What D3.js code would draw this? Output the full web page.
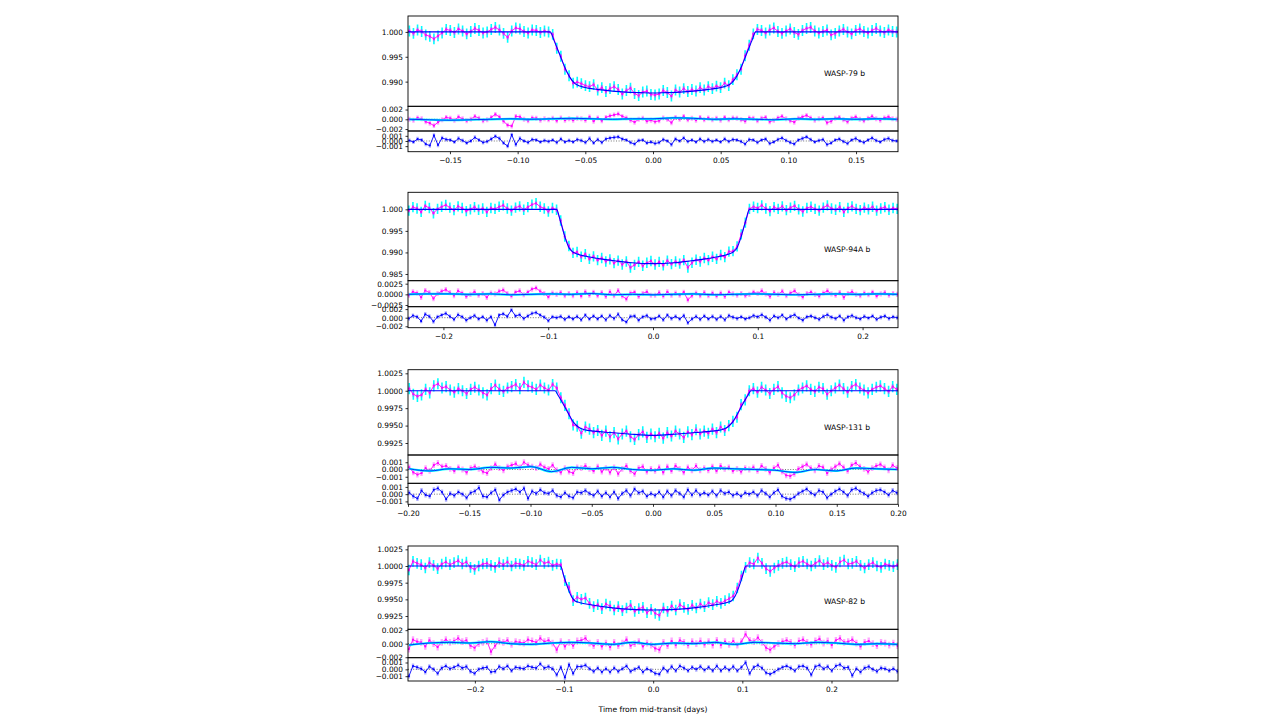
<!DOCTYPE html>
<html>
<head>
<meta charset="utf-8">
<script src="https://cdnjs.cloudflare.com/ajax/libs/d3/7.8.5/d3.min.js"></script>
<style>
  body { margin: 0; background: #fff; }
  svg { display: block; font-family: "DejaVu Sans", sans-serif; }
</style>
</head>
<body>
<div id="chart"></div>
<script>
// planet names, one per panel
const planets = ["WASP-79 b", "WASP-94A b", "WASP-131 b", "WASP-82 b"];

// time span covered by the observations (days from mid-transit)
const timeSpans = [[-0.18, 0.18], [-0.233, 0.233], [-0.199, 0.199], [-0.274, 0.274]];

// all flux / residual values below are in units of 1e-4 (relative to 1.0 or 0.0)

// WASP-79 b
const flux1 = [2,-3,4,1,-6,-9,-14,-8,-2,5,3,-1,6,2,-4,1,7,3,-2,0,5,9,4,-3,-11,2,8,6,1,-2,4,3,-1,2,0,
  -5,-33,-49,-75,-88,-103,
  -101,-104,-108,-110,-106,-117,-112,-120,-114,-110,-116,-125,-118,-113,-124,-128,-121,-119,-126,
  -127,-125,-118,-122,-129,-117,-121,-114,-120,-116,-119,-112,-117,-110,-114,-109,-112,-103,-108,
  -96,-86,-75,-48,-27,-4,
  5,3,-2,4,8,1,-3,2,6,-1,-5,3,7,9,2,-2,1,4,-6,-3,2,5,0,-4,3,6,1,-2,3,7,2,-1,4,1,0];
const resid1 = [0,-2,3,1,-5,-8,-13,-6,-1,4,2,-2,5,1,-3,0,6,2,-3,-1,
  4,10,5,-4,-12,-14,6,5,0,-3,3,2,-2,1,-1,2,-3,3,-2,1,
  -2,2,1,-2,5,-4,3,-3,4,7,9,11,6,3,-2,-6,0,2,-4,-2,
  -5,-3,3,0,-7,4,0,6,-1,2,-2,4,-1,3,-1,2,-2,4,-1,3,
  2,-1,-4,3,2,-3,2,4,-5,-2,3,6,1,-3,-6,2,5,8,3,-2,
  1,3,-7,-4,2,4,-1,-5,2,5,0,-3,2,6,1,-2,3,5,1,0];
const gp1 = [0,-1,-2,-1,0,1,0,1,2,1,0,1,1,3,2,0,1,0,-1,1,0,1,0,1,0];
const detrended1 = [1,-2,4,2,-6,-9,11,-8,6,3,2,-2,5,1,-4,0,7,2,-3,-1,
  4,9,5,-4,-10,12,-7,5,0,-3,3,2,-2,1,-1,2,-3,4,-2,1,
  -2,3,1,-3,5,-4,3,-3,4,6,7,8,4,2,-3,-6,1,2,-4,-2,
  -5,-3,3,0,-7,4,0,6,-1,2,-2,4,-1,3,-1,2,-2,4,-1,3,
  2,-1,-6,3,2,-3,2,4,-5,-2,3,6,1,-3,-6,2,5,8,3,-2,
  1,3,-7,-4,2,4,-1,-5,2,5,0,-3,2,6,1,-2,3,5,1,0];
const modelTime1 = [-0.181,-0.076,-0.073,-0.069,-0.065,-0.061,-0.058,-0.054,-0.048,-0.04,-0.03,-0.02,-0.01,0,0.01,0.02,0.03,0.04,0.048,0.054,0.058,0.061,0.065,0.069,0.073,0.076,0.181];
const modelFlux1 = [0,0,-18,-45,-72,-93,-103,-109,-113,-116,-119,-121,-122,-123,-122,-121,-119,-116,-113,-109,-103,-93,-72,-45,-18,0,0];

// WASP-94A b
const flux2 = [-3,5,2,-6,8,3,-9,1,6,10,4,-2,7,3,-4,0,5,-1,2,-6,3,1,6,9,2,-3,4,7,-1,5,11,14,6,2,-5,3,
  -1,-26,-63,-85,-101,
  -99,-110,-104,-115,-109,-118,-113,-121,-116,-125,-119,-128,-121,-135,-129,-122,-131,-124,-120,
  -128,-122,-130,-119,-127,-121,-126,-118,-135,-124,-117,-121,-113,-118,-110,-115,-106,-111,-98,
  -97,-86,-58,-31,1,
  6,3,9,2,-4,5,1,7,-2,4,8,0,-5,3,6,1,-3,4,9,2,-1,5,-6,3,7,1,-2,4,0,6,-3,2,5,-1,3,1];
const resid2 = [-2,6,3,-7,9,4,-10,2,7,11,4,-3,8,3,-5,0,6,-2,2,-7,
  3,1,7,10,2,-4,5,8,-1,5,12,15,7,2,-6,3,0,4,-3,2,
  -3,4,-4,6,-2,5,-3,4,-5,6,-3,9,-4,-11,3,5,-5,2,6,-2,
  -2,4,-4,6,-2,3,-2,5,-13,-3,3,-3,4,-3,3,-4,3,-5,5,1,
  -2,2,-3,0,5,2,8,1,-5,4,0,7,-3,3,8,-1,-6,2,5,0,
  -4,3,8,1,-2,4,-7,2,6,0,-3,3,-1,5,-4,1,4,-2,2,0];
const gp2 = [0,1,1,0,1,-1,0,1,0,2,-1,0,-1,0,1,-1,0,1,0,-1,0,1,0,1,0];
const detrended2 = [-2,5,2,-8,8,3,-9,2,6,10,3,-4,7,2,-6,0,5,-3,2,-6,
  2,-17,6,9,3,18,4,7,-2,4,10,12,6,1,-7,2,0,3,-4,2,
  -3,3,-5,6,-3,4,-3,4,-5,5,-2,8,-5,-10,3,4,-6,2,5,-3,
  -2,4,-5,6,-2,3,-3,5,-12,-3,3,-4,4,-3,3,-4,3,-5,5,1,
  -2,2,-3,0,5,2,7,1,-6,4,0,6,-3,3,7,-1,-6,2,4,0,
  -4,3,7,1,-2,4,-6,2,5,0,-3,3,-1,4,-4,1,4,-2,2,0];
const modelTime2 = [-0.234,-0.092,-0.089,-0.086,-0.083,-0.08,-0.077,-0.072,-0.064,-0.05,-0.035,-0.02,0,0.02,0.035,0.05,0.064,0.072,0.077,0.08,0.083,0.086,0.089,0.092,0.234];
const modelFlux2 = [0,0,-22,-48,-72,-90,-98,-104,-109,-115,-120,-124,-126,-124,-120,-115,-109,-104,-98,-90,-72,-48,-22,0,0];

// WASP-131 b
const flux3 = [3,-5,-8,-6,2,-3,7,10,4,6,1,-2,3,0,-4,2,5,1,-3,-6,3,8,2,-1,4,6,9,3,12,7,5,2,8,4,1,9,
  4,-10,-21,-33,-49,-51,
  -61,-52,-55,-60,-57,-64,-58,-66,-60,-69,-62,-58,-66,-70,-63,-59,-67,-62,
  -66,-61,-68,-60,-65,-58,-62,-67,-59,-63,-56,-62,-58,-61,-55,-60,-52,-57,
  -50,-44,-38,-20,-13,0,
  3,-2,5,1,-4,2,6,-3,-8,-10,-6,1,4,7,2,-1,5,3,-5,0,4,8,3,-2,6,9,4,1,-3,2,5,7,3,-1,6,2];
const resid3 = [3,-4,-7,-5,2,-2,6,9,4,5,1,-2,3,0,-4,2,4,1,-3,-5,
  2,7,2,-1,4,6,8,3,10,6,4,2,7,3,1,6,-1,-4,2,-3,
  -5,3,2,5,1,-2,4,-3,2,-4,3,-6,1,5,-2,-6,2,4,-3,1,
  -2,3,-4,4,-2,5,1,-4,3,-1,5,-1,2,-1,4,-2,5,1,3,-2,
  1,-3,2,0,3,-2,5,1,-4,2,6,-3,-8,-9,-6,1,4,7,2,-1,
  5,3,-5,0,4,8,3,-2,6,9,4,1,-3,2,5,7,3,-1,6,2];
const gp3 = [1,-2,1,0,3,2,4,-3,3,1,3,0,-1,1,-1,2,1,0,-1,-4,0,-2,2,1,0];
const detrended3 = [2,-3,-6,5,-1,-3,6,8,3,-7,1,-2,3,0,-5,2,4,9,-3,-4,
  2,6,-8,-1,3,5,7,3,8,-6,4,1,6,2,1,5,-2,-4,2,-3,
  -5,3,2,5,1,-2,4,-3,2,-4,3,-6,1,5,-2,7,2,4,-3,1,
  -2,3,-4,4,-2,5,1,-4,6,-1,5,-1,2,-1,4,-2,5,1,3,-2,
  1,-3,2,0,3,-2,5,1,-4,2,6,-3,-6,-7,-4,1,4,7,2,-1,
  5,3,-5,0,4,7,3,-2,6,8,4,1,-3,2,5,6,3,-1,5,2];
const modelTime3 = [-0.2,-0.08,-0.077,-0.073,-0.069,-0.065,-0.061,-0.056,-0.048,-0.035,-0.02,0,0.02,0.035,0.048,0.056,0.061,0.065,0.069,0.073,0.077,0.08,0.2];
const modelFlux3 = [0,0,-8,-20,-33,-45,-52,-56,-58,-60,-62,-64,-62,-60,-58,-56,-52,-45,-33,-20,-8,0,0];

// WASP-82 b
const flux4 = [-6,7,4,2,-3,5,1,-4,3,6,2,5,8,3,6,-2,-5,0,3,4,1,-2,5,2,6,0,4,3,1,7,5,2,9,4,6,1,3,
  2,-22,-32,-52,
  -47,-50,-48,-56,-61,-58,-64,-57,-60,-66,-61,-67,-63,-59,-68,-64,-62,-70,-65,
  -71,-74,-63,-68,-60,-66,-58,-62,-65,-59,-63,-57,-61,-55,-58,-53,-56,-52,-49,
  -45,-33,-15,-2,
  5,3,12,4,-4,-8,-3,1,4,6,2,-1,5,7,3,0,4,8,2,5,1,-2,6,9,3,4,7,1,-3,2,5,0,-2,3,1,-1,2];
const resid4 = [-8,6,3,2,-4,5,0,-5,2,6,2,4,8,3,5,-3,-6,0,2,4,
  -12,-3,4,2,5,-1,3,2,1,6,4,2,8,3,5,1,-9,3,-4,2,
  -3,4,5,8,1,-3,2,-4,1,-5,2,-3,1,6,-3,0,3,-4,1,-2,
  -7,-9,2,-3,4,-2,5,2,-2,3,0,4,-1,3,-2,5,-2,3,-1,4,
  -2,3,14,5,3,9,2,-6,-9,-4,0,3,5,2,-2,4,6,2,-1,4,
  7,1,4,-2,5,8,2,3,6,1,-4,2,4,0,-3,2,1,-2,1,-3];
const gp4 = [-2,1,2,1,3,0,-1,1,2,1,-1,2,-1,1,0,2,-1,2,1,0,2,1,-1,0,-1];
const detrended4 = [-10,5,3,1,-4,4,0,-6,2,5,1,3,6,2,4,-3,-6,0,2,3,
  -4,-3,4,1,5,-2,3,2,1,5,3,2,8,2,4,1,-8,3,-12,7,
  -6,4,4,6,1,-3,2,-4,1,-4,2,-3,1,5,-3,0,3,-4,1,-2,
  -6,-7,2,-3,4,-2,5,2,-2,3,0,4,-1,3,-2,5,-2,3,-1,4,
  -2,3,10,-6,3,6,2,-5,-7,-4,0,3,5,2,-2,4,5,2,-8,4,
  6,1,4,-2,5,7,2,3,-9,1,-4,2,4,0,-3,2,1,-2,1,-3];
const modelTime4 = [-0.276,-0.104,-0.1,-0.096,-0.092,-0.088,-0.082,-0.07,-0.05,-0.025,0,0.025,0.05,0.07,0.082,0.088,0.092,0.096,0.1,0.104,0.276];
const modelFlux4 = [0,0,-16,-32,-45,-52,-55,-58,-62,-65,-66,-65,-62,-58,-55,-52,-45,-32,-16,0,0];

// tick labels
const xTicks = [
  [-0.15, -0.10, -0.05, 0, 0.05, 0.10, 0.15],
  [-0.2, -0.1, 0, 0.1, 0.2],
  [-0.20, -0.15, -0.10, -0.05, 0, 0.05, 0.10, 0.15, 0.20],
  [-0.2, -0.1, 0, 0.1, 0.2]
];
const mainTicks = [
  [0.990, 0.995, 1.000],
  [0.985, 0.990, 0.995, 1.000],
  [0.9925, 0.9950, 0.9975, 1.0000, 1.0025],
  [0.9925, 0.9950, 0.9975, 1.0000, 1.0025]
];
const residTicks = [[-0.002, 0, 0.002], [-0.0025, 0, 0.0025], [-0.001, 0, 0.001], [-0.002, 0, 0.002]];
const detrendTicks = [[-0.001, 0, 0.001], [-0.002, 0, 0.002], [-0.001, 0, 0.001], [-0.001, 0, 0.001]];

// layout / axis setup for each panel (error sizes in 1e-4)
const plotLeft = 408, plotRight = 898;
const panels = [
  { flux: flux1, resid: resid1, gp: gp1, det: detrended1, mT: modelTime1, mF: modelFlux1,
    rows: [16, 106.3, 131, 151.7], xDom: [-0.181, 0.181], xFmt: ".2f",
    mainDom: [0.98504, 1.0032], mainFmt: ".3f", rDom: [-0.0024, 0.00266], rFmt: ".3f",
    dDom: [-0.00208, 0.00194], dFmt: ".3f", errC: 11, errM: 5, errR: 5, errD: 4, labelY: 73.3 },
  { flux: flux2, resid: resid2, gp: gp2, det: detrended2, mT: modelTime2, mF: modelFlux2,
    rows: [192.3, 280.7, 306.7, 327.7], xDom: [-0.2338, 0.2338], xFmt: ".1f",
    mainDom: [0.98344, 1.00395], mainFmt: ".3f", rDom: [-0.0029, 0.0032], rFmt: ".4f",
    dDom: [-0.00233, 0.00256], dFmt: ".3f", errC: 12, errM: 5, errR: 6, errD: 5, labelY: 249.3 },
  { flux: flux3, resid: resid3, gp: gp3, det: detrended3, mT: modelTime3, mF: modelFlux3,
    rows: [369.7, 455, 483.3, 504.3], xDom: [-0.2, 0.2], xFmt: ".2f",
    mainDom: [0.99078, 1.00302], mainFmt: ".4f", rDom: [-0.0019, 0.002], rFmt: ".3f",
    dDom: [-0.0014, 0.0015], dFmt: ".3f", errC: 8, errM: 3.5, errR: 4, errD: 3.5, labelY: 427 },
  { flux: flux4, resid: resid4, gp: gp4, det: detrended4, mT: modelTime4, mF: modelFlux4,
    rows: [546, 629.3, 657.7, 681], xDom: [-0.275, 0.2746], xFmt: ".1f",
    mainDom: [0.99051, 1.003], mainFmt: ".4f", rDom: [-0.00207, 0.00213], rFmt: ".3f",
    dDom: [-0.0017, 0.0017], dFmt: ".3f", errC: 8, errM: 3.5, errR: 5, errD: 3.5, labelY: 601 }
];

const svg = d3.select("#chart").append("svg")
  .attr("width", 1281)
  .attr("height", 719);

const toFlux = v => 1 + v * 1e-4;
const toResid = v => v * 1e-4;
let clipId = 0;

// clipped group for one set of axes
function axesGroup(y0, y1) {
  const id = "clip" + (clipId++);
  svg.append("clipPath").attr("id", id)
    .append("rect")
    .attr("x", plotLeft).attr("y", y0)
    .attr("width", plotRight - plotLeft).attr("height", y1 - y0);
  return svg.append("g").attr("clip-path", `url(#${id})`);
}

function errorBars(g, x, y, ts, vals, color, opacity, width) {
  g.append("g").selectAll("line")
    .data(vals)
    .join("line")
    .attr("x1", (d, i) => x(ts[i]))
    .attr("x2", (d, i) => x(ts[i]))
    .attr("y1", d => y(d[0]))
    .attr("y2", d => y(d[1]))
    .attr("stroke", color)
    .attr("stroke-opacity", opacity)
    .attr("stroke-width", width);
}

// points joined by a thin trace, so the dense series reads as in the original
function points(g, x, y, ts, vals, color, r) {
  g.append("path")
    .datum(vals)
    .attr("fill", "none")
    .attr("stroke", color)
    .attr("stroke-width", 0.9)
    .attr("d", d3.line().x((d, i) => x(ts[i])).y(d => y(d)));
  g.append("g").selectAll("circle")
    .data(vals)
    .join("circle")
    .attr("cx", (d, i) => x(ts[i]))
    .attr("cy", d => y(d))
    .attr("r", r)
    .attr("fill", color);
}

function zeroLine(g, y) {
  g.append("line")
    .attr("x1", plotLeft).attr("x2", plotRight)
    .attr("y1", y(0)).attr("y2", y(0))
    .attr("stroke", "#555")
    .attr("stroke-width", 0.8)
    .attr("stroke-dasharray", "1,1.6");
}

function leftAxis(y, ticks, fmt) {
  const g = svg.append("g")
    .attr("transform", `translate(${plotLeft},0)`)
    .call(d3.axisLeft(y).tickValues(ticks).tickFormat(d3.format(fmt)).tickSize(2.5).tickPadding(2.5));
  styleAxis(g);
}

function styleAxis(g) {
  g.select(".domain").remove();
  g.selectAll(".tick line").attr("stroke", "#000").attr("stroke-width", 0.8);
  g.selectAll(".tick text").attr("fill", "#000").style("font-size", "7.4px")
    .style("font-family", "'DejaVu Sans', sans-serif");
}

function frame(y0, y1) {
  svg.append("rect")
    .attr("x", plotLeft).attr("y", y0)
    .attr("width", plotRight - plotLeft).attr("height", y1 - y0)
    .attr("fill", "none")
    .attr("stroke", "#000")
    .attr("stroke-width", 0.9);
}

panels.forEach((p, k) => {
  const [top, mainBottom, rBottom, dBottom] = p.rows;
  const span = timeSpans[k];
  const x = d3.scaleLinear().domain(p.xDom).range([plotLeft, plotRight]);
  const times = p.flux.map((v, i) => span[0] + i * (span[1] - span[0]) / (p.flux.length - 1));
  const gpTimes = p.gp.map((v, i) => span[0] + i * (span[1] - span[0]) / (p.gp.length - 1));

  // main light curve
  const yMain = d3.scaleLinear().domain(p.mainDom).range([mainBottom, top]);
  const gm = axesGroup(top, mainBottom);
  const eC = p.errC * 1e-4, eM = p.errM * 1e-4, eR = p.errR * 1e-4, eD = p.errD * 1e-4;
  errorBars(gm, x, yMain, times, p.flux.map(v => [toFlux(v) - eC, toFlux(v) + eC]), "#00ffff", 1, 1.6);
  errorBars(gm, x, yMain, times, p.flux.map(v => [toFlux(v) - eM, toFlux(v) + eM]), "#ff00ff", 0.35, 2.2);
  points(gm, x, yMain, times, p.flux.map(toFlux), "#ff00ff", 1.1);
  gm.append("path")
    .datum(p.mT.map((t, i) => [t, toFlux(p.mF[i])]))
    .attr("fill", "none")
    .attr("stroke", "#0000ff")
    .attr("stroke-width", 1.1)
    .attr("d", d3.line().x(d => x(d[0])).y(d => yMain(d[1])).curve(d3.curveMonotoneX));

  // residuals with noise model
  const yR = d3.scaleLinear().domain(p.rDom).range([rBottom, mainBottom]);
  const gr = axesGroup(mainBottom, rBottom);
  zeroLine(gr, yR);
  errorBars(gr, x, yR, times, p.resid.map(v => [toResid(v) - eR, toResid(v) + eR]), "#ff00ff", 0.35, 2.4);
  points(gr, x, yR, times, p.resid.map(toResid), "#ff00ff", 1.1);
  const gpLine = d3.line().x((d, i) => x(gpTimes[i])).y(d => yR(toResid(d))).curve(d3.curveMonotoneX);
  gr.append("path").datum(p.gp).attr("fill", "none").attr("stroke", "#00ffff")
    .attr("stroke-width", 2.2).attr("d", gpLine);
  gr.append("path").datum(p.gp).attr("fill", "none").attr("stroke", "#0000ff")
    .attr("stroke-width", 0.8).attr("d", gpLine);

  // detrended residuals
  const yD = d3.scaleLinear().domain(p.dDom).range([dBottom, rBottom]);
  const gd = axesGroup(rBottom, dBottom);
  zeroLine(gd, yD);
  errorBars(gd, x, yD, times, p.det.map(v => [toResid(v) - eD, toResid(v) + eD]), "#0000ff", 0.3, 2.4);
  points(gd, x, yD, times, p.det.map(toResid), "#0000ff", 1);

  frame(top, mainBottom);
  frame(mainBottom, rBottom);
  frame(rBottom, dBottom);

  leftAxis(yMain, mainTicks[k], p.mainFmt);
  leftAxis(yR, residTicks[k], p.rFmt);
  leftAxis(yD, detrendTicks[k], p.dFmt);

  const gx = svg.append("g")
    .attr("transform", `translate(0,${dBottom})`)
    .call(d3.axisBottom(x).tickValues(xTicks[k]).tickFormat(d3.format(p.xFmt)).tickSize(2.5).tickPadding(3.5));
  styleAxis(gx);

  svg.append("text")
    .attr("x", 824)
    .attr("y", p.labelY)
    .attr("dy", "0.35em")
    .style("font-size", "7.6px")
    .text(planets[k]);
});

svg.append("text")
  .attr("x", 653)
  .attr("y", 712)
  .attr("text-anchor", "middle")
  .style("font-size", "7.6px")
  .text("Time from mid-transit (days)");
</script>
</body>
</html>
